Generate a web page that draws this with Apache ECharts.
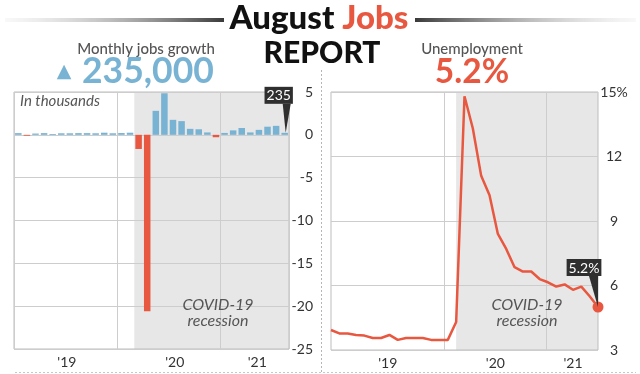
<!DOCTYPE html>
<html><head><meta charset="utf-8">
<script src="https://cdn.jsdelivr.net/npm/echarts@6/dist/echarts.min.js"></script>
<style>html,body{margin:0;padding:0;background:#fff}#c{width:640px;height:374px}</style>
</head><body><div id="c"></div>
<script>
// ---- data ----
// Monthly jobs change, millions (Jan 2019 .. Aug 2021)
const jobMonths = ['2019-01','2019-02','2019-03','2019-04','2019-05','2019-06','2019-07','2019-08','2019-09','2019-10','2019-11','2019-12',
  '2020-01','2020-02','2020-03','2020-04','2020-05','2020-06','2020-07','2020-08','2020-09','2020-10','2020-11','2020-12',
  '2021-01','2021-02','2021-03','2021-04','2021-05','2021-06','2021-07','2021-08'];
const jobsChange = [0.2, -0.1, 0.15, 0.2, 0.1, 0.18, 0.18, 0.2, 0.2, 0.18, 0.25, 0.18,
  0.21, 0.25, -1.65, -20.6, 2.8, 4.85, 1.75, 1.6, 0.7, 0.65, 0.28, -0.28,
  0.22, 0.52, 0.8, 0.28, 0.58, 0.95, 1.05, 0.235];
// Unemployment rate, % (Dec 2018 .. Aug 2021)
const rateMonths = ['2018-12','2019-01','2019-02','2019-03','2019-04','2019-05','2019-06','2019-07','2019-08','2019-09','2019-10','2019-11','2019-12',
  '2020-01','2020-02','2020-03','2020-04','2020-05','2020-06','2020-07','2020-08','2020-09','2020-10','2020-11','2020-12',
  '2021-01','2021-02','2021-03','2021-04','2021-05','2021-06','2021-07','2021-08'];
const unemploymentRate = [3.93, 3.77, 3.77, 3.7, 3.67, 3.56, 3.56, 3.7, 3.47, 3.56, 3.56, 3.56, 3.47,
  3.47, 3.47, 4.3, 14.8, 13.3, 11.1, 10.2, 8.4, 7.7, 6.85, 6.65, 6.65,
  6.3, 6.15, 5.95, 6.05, 5.8, 5.95, 5.5, 5.0];
const yearTickLabels = ["'19", "'20", "'21"];
const jobsYearTickPos = [6.15, 18.7, 28.3];      // in month-slots
const rateYearTickPos = [6.8, 19.7, 29.0];       // in month index
const rateYearLinePos = [13.55, 25.8];
const jobsRecession = [14, 32];
const rateRecession = [15, 32];
const jobsHeadline = '235,000';
const jobsLabel = '235';
const rateHeadline = '5.2%';

// ---- style ----
const BLUE = '#78b3d4', RED = '#e8573f', SHADE = '#e7e7e7', GRID = '#cdcdcd', TXT = '#333', FONT = 'Lato';

const chart = echarts.init(document.getElementById('c'), null, {renderer: 'canvas'});
const nearestLabel = (pos) => (v) => {
  let best = 0, d = 1e9;
  pos.forEach((p, i) => { if (Math.abs(p - v) < d) { d = Math.abs(p - v); best = i; } });
  return yearTickLabels[best];
};
const shadeSeries = (xi, yi, range, ymin, ymax) => ({
  type: 'custom', xAxisIndex: xi, yAxisIndex: yi, z: -1, silent: true,
  data: [[range[0], ymin, range[1], ymax]],
  renderItem: (p, api) => {
    const a = api.coord([api.value(0), api.value(3)]);
    const b = api.coord([api.value(2), api.value(1)]);
    return {type: 'rect', shape: {x: a[0], y: a[1], width: b[0] - a[0], height: b[1] - a[1]}, style: {fill: SHADE}};
  }
});
const lastJ = jobsChange.length - 1;
const lastR = unemploymentRate.length - 1;
const calloutLabel = {
  show: true, position: 'top', distance: 0, color: '#fff', backgroundColor: '#2f2f2f',
  fontFamily: FONT, fontSize: 14, padding: [2, 2, 1, 2], lineHeight: 14
};

const option = {
  animation: false,
  textStyle: {fontFamily: FONT},
  grid: [
    {left: 14, top: 92, width: 275, height: 257, show: true, borderColor: '#bdbdbd', borderWidth: 1},
    {left: 331, top: 92, width: 267, height: 258, show: true, borderColor: '#bdbdbd', borderWidth: 1}
  ],
  xAxis: [
    {gridIndex: 0, type: 'value', min: 0, max: 32, interval: 12,
     axisLine: {show: false}, axisTick: {show: false},
     splitLine: {show: true, lineStyle: {color: GRID}},
     axisLabel: {customValues: jobsYearTickPos, formatter: nearestLabel(jobsYearTickPos), color: TXT, fontSize: 14, margin: 6, fontFamily: FONT}},
    {gridIndex: 1, type: 'value', min: 0, max: 32,
     axisLine: {show: false}, axisTick: {show: false}, splitLine: {show: false},
     axisLabel: {customValues: rateYearTickPos, formatter: nearestLabel(rateYearTickPos), color: TXT, fontSize: 14, margin: 6, fontFamily: FONT}}
  ],
  yAxis: [
    {gridIndex: 0, type: 'value', min: -25, max: 5, interval: 5, position: 'right',
     axisLine: {show: false}, axisTick: {show: false},
     splitLine: {lineStyle: {color: GRID}},
     axisLabel: {align: 'right', margin: 24, color: TXT, fontSize: 14, fontFamily: FONT}},
    {gridIndex: 1, type: 'value', min: 3, max: 15, interval: 3, position: 'right',
     axisLine: {show: false}, axisTick: {show: false},
     splitLine: {lineStyle: {color: GRID}},
     axisLabel: {align: 'center', margin: 16, color: TXT, fontSize: 14, fontFamily: FONT,
       formatter: v => v === 15 ? '15%' : String(v)}}
  ],
  series: [
    shadeSeries(0, 0, jobsRecession, -25, 5),
    shadeSeries(1, 1, rateRecession, 3, 15),
    {type: 'custom', xAxisIndex: 1, yAxisIndex: 1, z: 0.5, silent: true,
     data: rateYearLinePos.map(x => [x, 3]),
     renderItem: (p, api) => {
       const t = api.coord([api.value(0), 15]);
       const b = api.coord([api.value(0), 3]);
       const x = Math.round(t[0]) + 0.5;
       return {type: 'line', shape: {x1: x, y1: t[1], x2: x, y2: b[1]}, style: {stroke: GRID, lineWidth: 1}};
     }},
    {type: 'bar', xAxisIndex: 0, yAxisIndex: 0, barWidth: 6.5,
     data: jobsChange.map((v, i) => [i + 0.5, v]),
     itemStyle: {color: p => p.value[1] < 0 ? RED : BLUE},
     markPoint: {
       silent: true,
       symbol: 'path://M0,0 L8,0 L3,29 Z', symbolSize: [8, 29], symbolKeepAspect: false,
       symbolOffset: [2, -14.5],
       itemStyle: {color: '#2f2f2f'},
       label: Object.assign({}, calloutLabel, {offset: [-8, 0], formatter: jobsLabel}),
       data: [{coord: [lastJ + 0.5, jobsChange[lastJ]]}]
     }},
    {type: 'line', xAxisIndex: 1, yAxisIndex: 1, z: 3,
     data: unemploymentRate.map((v, i) => [i, v]),
     lineStyle: {color: RED, width: 2.5}, itemStyle: {color: RED},
     symbol: 'circle', showAllSymbol: true,
     symbolSize: (v, p) => p.dataIndex === lastR ? 11 : 0,
     markPoint: {
       silent: true,
       symbol: 'path://M0,0 L9,0 L9,31 Z', symbolSize: [9, 31], symbolKeepAspect: false,
       symbolOffset: [-4.5, -15.5],
       itemStyle: {color: '#2f2f2f'},
       label: Object.assign({}, calloutLabel, {offset: [-9.5, 0], formatter: rateHeadline}),
       data: [{coord: [lastR, unemploymentRate[lastR]]}]
     }}
  ],
  graphic: [
    {type: 'rect', left: 5, top: 18, shape: {width: 219, height: 4}, silent: true,
     style: {fill: new echarts.graphic.LinearGradient(0, 0, 1, 0, [{offset: 0, color: 'rgba(220,220,220,0.2)'}, {offset: 1, color: '#3a3a3a'}])}},
    {type: 'rect', left: 415, top: 18, shape: {width: 221, height: 4}, silent: true,
     style: {fill: new echarts.graphic.LinearGradient(0, 0, 1, 0, [{offset: 0, color: '#3a3a3a'}, {offset: 1, color: 'rgba(220,220,220,0.2)'}])}},
    {type: 'text', x: 319, y: 18, silent: true,
     style: {text: '{a|August }{b|Jobs}', align: 'center', verticalAlign: 'middle',
       rich: {a: {fontFamily: FONT, fontWeight: 900, fontSize: 33, fill: '#111'}, b: {fontFamily: FONT, fontWeight: 900, fontSize: 33, fill: RED}}}},
    {type: 'text', x: 322, y: 53, silent: true,
     style: {text: 'REPORT', align: 'center', verticalAlign: 'middle', fontFamily: FONT, fontWeight: 900, fontSize: 30, fill: '#111'}},
    {type: 'text', x: 146, y: 49, silent: true,
     style: {text: 'Monthly jobs growth', align: 'center', verticalAlign: 'middle', fontFamily: FONT, fontWeight: 500, fontSize: 15, fill: '#555'}},
    {type: 'text', x: 64, y: 72, silent: true,
     style: {text: '▲', align: 'center', verticalAlign: 'middle', fontFamily: 'DejaVu Sans', fontSize: 19, fill: BLUE}},
    {type: 'text', x: 82, y: 72, silent: true,
     style: {text: jobsHeadline, align: 'left', verticalAlign: 'middle', fontFamily: FONT, fontWeight: 'bold', fontSize: 35.5, fill: BLUE}},
    {type: 'text', x: 472, y: 49, silent: true,
     style: {text: 'Unemployment', align: 'center', verticalAlign: 'middle', fontFamily: FONT, fontWeight: 500, fontSize: 15, fill: '#555'}},
    {type: 'text', x: 472, y: 72, silent: true,
     style: {text: rateHeadline, align: 'center', verticalAlign: 'middle', fontFamily: FONT, fontWeight: 'bold', fontSize: 33.5, fill: RED}},
    {type: 'text', x: 20, y: 101, silent: true, z: 10,
     style: {text: 'In thousands', align: 'left', verticalAlign: 'middle', fontFamily: FONT, fontStyle: 'italic', fontSize: 15, fill: '#555'}},
    {type: 'text', x: 218, y: 313, silent: true, z: 10,
     style: {text: 'COVID-19\nrecession', align: 'center', verticalAlign: 'middle', lineHeight: 16, fontFamily: FONT, fontStyle: 'italic', fontSize: 16, fill: '#555'}},
    {type: 'text', x: 527, y: 313, silent: true, z: 10,
     style: {text: 'COVID-19\nrecession', align: 'center', verticalAlign: 'middle', lineHeight: 16, fontFamily: FONT, fontStyle: 'italic', fontSize: 16, fill: '#555'}},
    {type: 'line', silent: true, shape: {x1: 321.5, y1: 70, x2: 321.5, y2: 374},
     style: {stroke: '#b5b5b5', lineWidth: 1, lineDash: [2, 2]}},
    {type: 'line', silent: true, shape: {x1: 15, y1: 372.5, x2: 636, y2: 372.5},
     style: {stroke: '#c8c8c8', lineWidth: 1, lineDash: [2, 2]}}
  ]
};
chart.setOption(option);
</script>
</body></html>
